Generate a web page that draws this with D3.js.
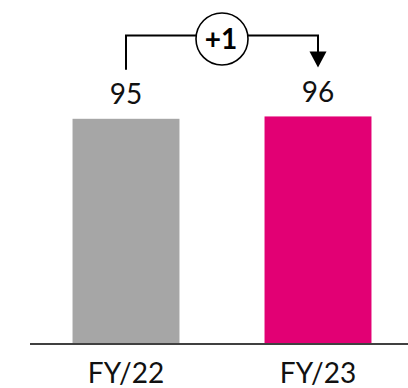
<!DOCTYPE html>
<html>
<head>
<meta charset="utf-8">
<script src="https://cdn.jsdelivr.net/npm/d3@7"></script>
<style>
  html, body { margin: 0; padding: 0; background: #fff; }
  svg { display: block; }
  text { font-family: Lato, "Open Sans", sans-serif; }
</style>
</head>
<body>
<svg id="chart" width="408" height="388"></svg>
<script>
const categories = ["FY/22", "FY/23"];
const values = [95, 96];
const colors = ["#A6A6A6", "#E20074"];
const deltaLabel = "+1";

const svg = d3.select("#chart");
const W = 408, H = 388;
const baseY = 343;

const x = d3.scaleBand()
  .domain(categories)
  .range([30, 414])
  .paddingInner(0.443)
  .paddingOuter(0.2215);

const y = d3.scaleLinear().domain([0, 100]).range([baseY, 107]);

// bars
svg.selectAll("rect.bar")
  .data(values)
  .join("rect")
  .attr("class", "bar")
  .attr("x", (d, i) => x(categories[i]))
  .attr("width", x.bandwidth())
  .attr("y", d => y(d))
  .attr("height", d => y(0) - y(d))
  .attr("fill", (d, i) => colors[i]);

// axis baseline
const axis = d3.axisBottom(x).tickSize(0).tickPadding(19);
const gAxis = svg.append("g").attr("transform", `translate(0,${baseY + 1})`).call(axis);
gAxis.select(".domain").remove();
gAxis.append("line")
  .attr("x1", 30).attr("x2", W)
  .attr("y1", 0).attr("y2", 0)
  .attr("stroke", "#000").attr("stroke-width", 1.6);
gAxis.selectAll(".tick text")
  .attr("font-size", 28)
  .attr("fill", "#111")
  .attr("font-family", "Lato, sans-serif");

// value labels
svg.selectAll("text.val")
  .data(values)
  .join("text")
  .attr("class", "val")
  .attr("x", (d, i) => x(categories[i]) + x.bandwidth() / 2)
  .attr("y", d => y(d) - 14.5)
  .attr("text-anchor", "middle")
  .attr("font-size", 28)
  .attr("fill", "#111")
  .text(d => d);

// bracket annotation
const cx0 = x(categories[0]) + x.bandwidth() / 2;
const cx1 = x(categories[1]) + x.bandwidth() / 2;
const topY = y(d3.max(values)) - 81;
const leftBottom = y(values[0]) - 49;
const arrowTip = y(values[1]) - 49;
const headLen = 16, headHalf = 8.5;

svg.append("path")
  .attr("d", `M${cx0},${leftBottom} V${topY} H${cx1} V${arrowTip - headLen + 1}`)
  .attr("fill", "none")
  .attr("stroke", "#000")
  .attr("stroke-width", 2);

svg.append("path")
  .attr("d", `M${cx1 - headHalf},${arrowTip - headLen} L${cx1 + headHalf},${arrowTip - headLen} L${cx1},${arrowTip} Z`)
  .attr("fill", "#000");

const circX = (cx0 + cx1) / 2;
const circY = topY + 3.5;
svg.append("circle")
  .attr("cx", circX).attr("cy", circY).attr("r", 26)
  .attr("fill", "#fff")
  .attr("stroke", "#000")
  .attr("stroke-width", 1.6);

svg.append("text")
  .attr("x", circX - 1)
  .attr("y", circY + 10)
  .attr("text-anchor", "middle")
  .attr("font-size", 28)
  .attr("font-weight", "bold")
  .attr("fill", "#000")
  .text(deltaLabel);
</script>
</body>
</html>
